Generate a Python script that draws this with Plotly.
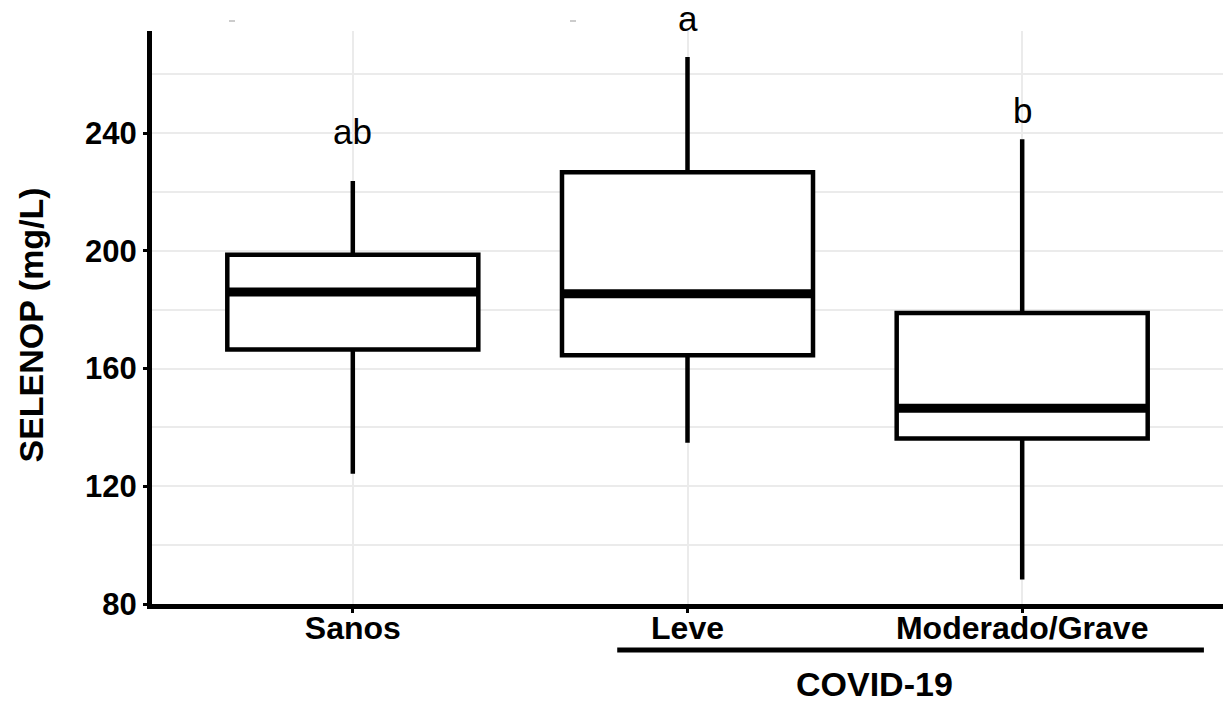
import plotly.graph_objects as go

# ---- data ----
categories = ["Sanos", "Leve", "Moderado/Grave"]
q1_vals = [166.5, 164.5, 136.2]
median_vals = [186.0, 185.4, 146.5]
q3_vals = [198.7, 226.7, 178.9]
lower_whisker = [124.3, 134.8, 88.3]
upper_whisker = [223.7, 265.9, 237.9]
sig_letters = ["ab", "a", "b"]
letter_y = [236.0, 274.2, 243.2]   # baseline position of the significance letters
y_ticks = [80, 120, 160, 200, 240]

FONT = "Liberation Sans, Arial, Helvetica, sans-serif"
BOX_W = 0.75
Y_RANGE = [80, 274.7]
positions = list(range(len(categories)))

fig = go.Figure()

for i, cat in enumerate(categories):
    fig.add_trace(go.Box(
        x=[positions[i]],
        q1=[q1_vals[i]], median=[median_vals[i]], q3=[q3_vals[i]],
        lowerfence=[lower_whisker[i]], upperfence=[upper_whisker[i]],
        width=BOX_W, whiskerwidth=0,
        line=dict(color="black", width=4.5),
        fillcolor="white",
        boxpoints=False, name=cat, showlegend=False, hoverinfo="skip",
    ))
    # thick median bar (ggplot style)
    fig.add_trace(go.Scatter(
        x=[positions[i] - BOX_W / 2, positions[i] + BOX_W / 2],
        y=[median_vals[i], median_vals[i]],
        mode="lines", line=dict(color="black", width=9),
        showlegend=False, hoverinfo="skip",
    ))

# significance letters (paper y so that labels above the panel still show)
for i, lab in enumerate(sig_letters):
    fig.add_annotation(
        x=positions[i], xref="x", yref="paper",
        y=(letter_y[i] - Y_RANGE[0]) / (Y_RANGE[1] - Y_RANGE[0]),
        text=lab, showarrow=False, yanchor="bottom", yshift=-7, borderpad=0,
        font=dict(family=FONT, size=35, color="black"),
    )

# y axis title
fig.add_annotation(
    x=0, y=0.5, xref="paper", yref="paper", xanchor="center", yanchor="middle",
    xshift=-122, yshift=-8, textangle=-90, showarrow=False,
    text="SELENOP (mg/L)",
    font=dict(family=FONT, size=34, color="black", weight="bold"),
)

# COVID-19 group bracket and label
fig.add_shape(type="line", xref="x", yref="paper",
              x0=1 - 0.21, x1=2 + 0.543, y0=-0.0803, y1=-0.0803,
              line=dict(color="black", width=5))
fig.add_annotation(
    x=1.56, y=0, xref="x", yref="paper", xanchor="center", yanchor="bottom",
    yshift=-101, showarrow=False, text="COVID-19",
    font=dict(family=FONT, size=34, color="black", weight="bold"),
)

# small gray marks at top (from reference)
for xs in [(229, 235), (570, 576)]:
    fig.add_shape(type="line", xref="paper", yref="paper",
                  x0=(xs[0] - 152) / 1071, x1=(xs[1] - 152) / 1071,
                  y0=(604 - 21) / 573, y1=(604 - 21) / 573,
                  line=dict(color="#bbbbbb", width=1.5))

fig.update_layout(
    width=1223, height=706,
    margin=dict(l=152, r=0, t=31, b=102),
    plot_bgcolor="white", paper_bgcolor="white",
    showlegend=False,
    xaxis=dict(
        range=[-0.6, 2.6],
        tickmode="array", tickvals=positions, ticktext=categories,
        showgrid=True, gridcolor="#ebebeb", gridwidth=2,
        zeroline=False,
        showline=True, linecolor="black", linewidth=5,
        ticks="outside", ticklen=4, tickwidth=3, tickcolor="black",
        ticklabelstandoff=-12,
        tickfont=dict(family=FONT, size=32, color="black", weight="bold"),
    ),
    yaxis=dict(
        range=Y_RANGE,
        tickmode="array", tickvals=y_ticks,
        showgrid=True, gridcolor="#ebebeb", gridwidth=2,
        minor=dict(dtick=20, tick0=80, showgrid=True, gridcolor="#ebebeb", gridwidth=1.5, ticks=""),
        zeroline=False,
        showline=True, linecolor="black", linewidth=5,
        ticks="outside", ticklen=4, tickwidth=3, tickcolor="black",
        tickfont=dict(family=FONT, size=31, color="black", weight="bold"),
    ),
)

fig.write_html("out.html")
